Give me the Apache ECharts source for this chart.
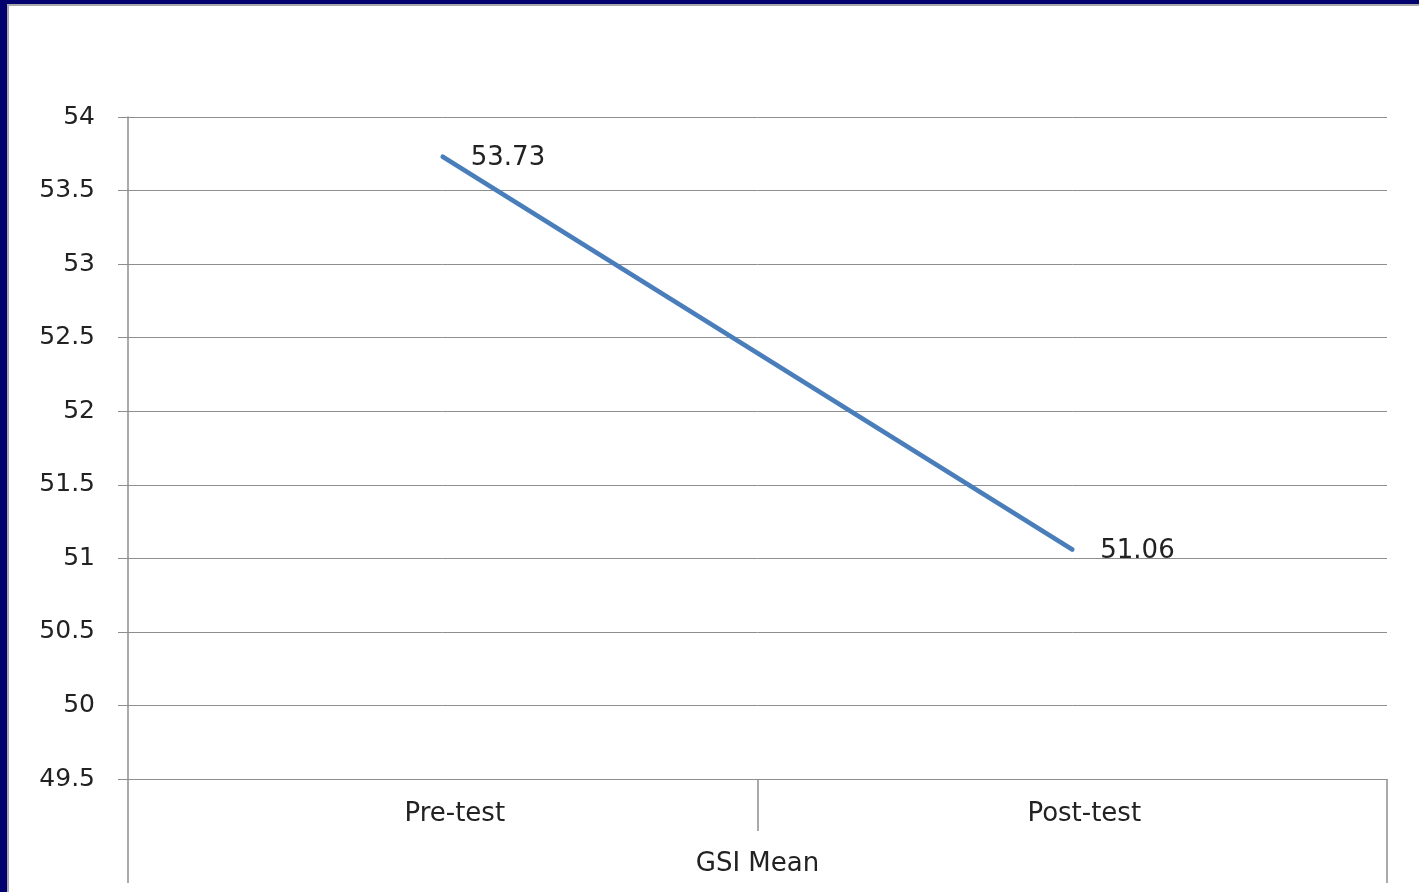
<!DOCTYPE html>
<html>
<head>
<meta charset="utf-8">
<title>GSI Mean</title>
<script src="https://cdn.jsdelivr.net/npm/echarts@6/dist/echarts.min.js"></script>
<style>
  html, body { margin: 0; padding: 0; background: #ffffff; }
  #chart { width: 1419px; height: 892px; }
</style>
</head>
<body>
<div id="chart"></div>
<script>
// Values
const categories = ['Pre-test', 'Post-test'];
const groupLabel = ['GSI Mean'];
const gsiMean = [53.73, 51.06];
const yMin = 49.5;
const yMax = 54;
const yStep = 0.5;

const FONT = 'DejaVu Sans';
const TEXT = '#222222';
const GRAY = '#8e8e8e';

const chart = echarts.init(document.getElementById('chart'), null, { renderer: 'canvas' });

chart.setOption({
  backgroundColor: '#ffffff',
  animation: false,
  textStyle: { fontFamily: FONT },
  graphic: [
    // slide frame: navy edge with a thin grey inner rule
    { type: 'rect', left: 0, top: 0, shape: { width: 7, height: 892 }, style: { fill: '#02026e' }, silent: true },
    { type: 'rect', left: 0, top: 0, shape: { width: 1419, height: 4 }, style: { fill: '#02026e' }, silent: true },
    { type: 'rect', left: 7, top: 4, shape: { width: 2, height: 888 }, style: { fill: '#a8a8a8' }, silent: true },
    { type: 'rect', left: 7, top: 4, shape: { width: 1412, height: 2 }, style: { fill: '#a8a8a8' }, silent: true }
  ],
  grid: { left: 128, right: 32, top: 117, bottom: 113, containLabel: false },
  xAxis: [
    {
      type: 'category',
      data: categories,
      position: 'bottom',
      boundaryGap: true,
      axisLine: { show: true, lineStyle: { color: GRAY, width: 1 } },
      axisTick: { show: true, length: 52, lineStyle: { color: GRAY, width: 1.5 } },
      axisLabel: { color: TEXT, fontSize: 26, fontFamily: FONT, margin: 22, padding: [0, 0, 0, 24] },
      splitLine: { show: false }
    },
    {
      type: 'category',
      data: groupLabel,
      position: 'bottom',
      offset: 52,
      boundaryGap: true,
      axisLine: { show: false },
      axisTick: { show: true, length: 52, lineStyle: { color: GRAY, width: 1.5 } },
      axisLabel: { color: TEXT, fontSize: 26, fontFamily: FONT, margin: 20 },
      splitLine: { show: false }
    }
  ],
  yAxis: {
    type: 'value',
    min: yMin,
    max: yMax,
    interval: yStep,
    axisLine: { show: true, lineStyle: { color: GRAY, width: 1.5 } },
    axisTick: { show: true, length: 10, lineStyle: { color: GRAY, width: 1 } },
    axisLabel: { color: TEXT, fontSize: 25, fontFamily: FONT, margin: 33 },
    splitLine: { show: true, lineStyle: { color: GRAY, width: 1 } }
  },
  series: [
    {
      name: 'GSI Mean',
      type: 'line',
      xAxisIndex: 0,
      data: gsiMean,
      symbol: 'circle',
      symbolSize: 4,
      showSymbol: true,
      itemStyle: { color: '#4a7ebb' },
      lineStyle: { color: '#4a7ebb', width: 4.5, cap: 'round' },
      label: {
        show: true,
        position: 'right',
        distance: 26,
        offset: [0, 2],
        color: TEXT,
        fontSize: 26,
        fontFamily: FONT,
        formatter: p => p.value.toFixed(2)
      }
    }
  ]
});
</script>
</body>
</html>
